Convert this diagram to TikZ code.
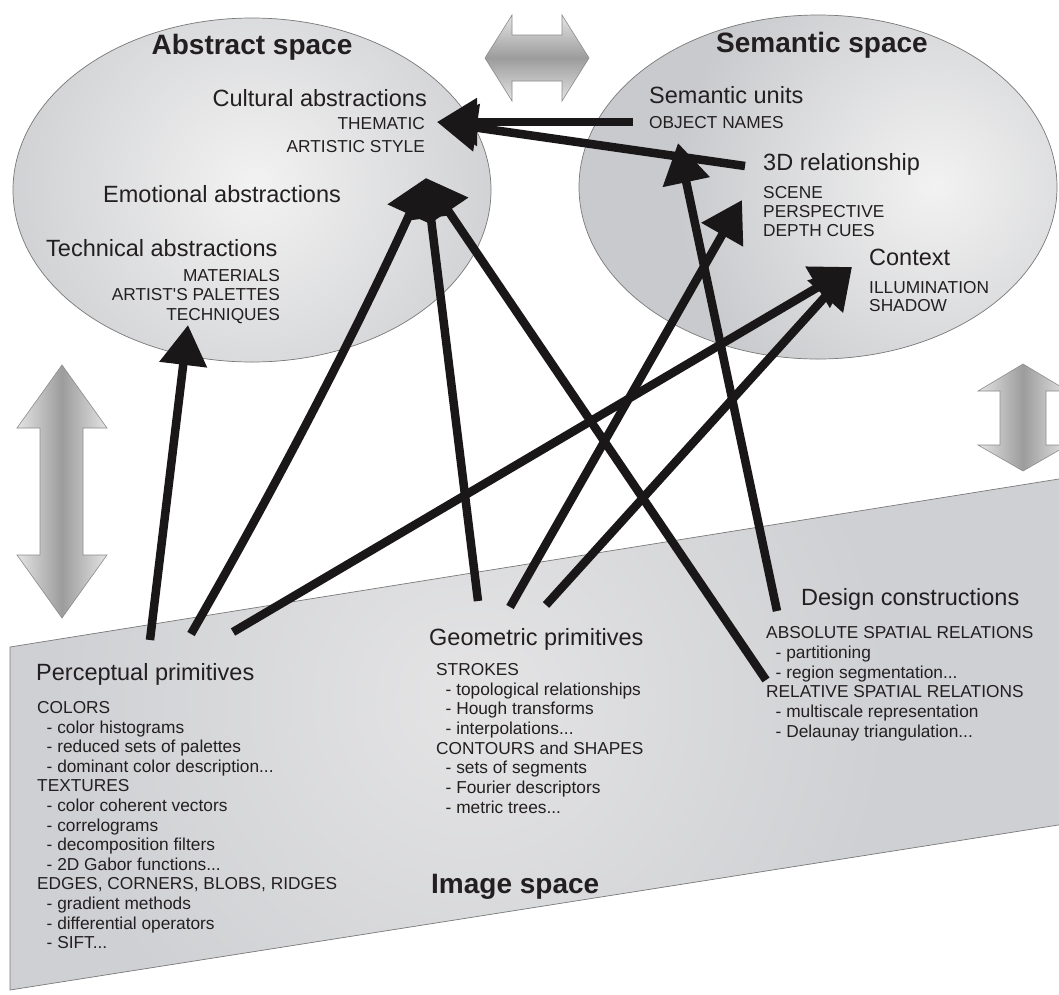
\documentclass[tikz,border=0pt]{standalone}
\usepackage{fontspec}
\setmainfont{Liberation Sans}
\usetikzlibrary{arrows.meta,shapes.geometric}
\definecolor{txt}{HTML}{231F20}
\definecolor{arrowcol}{HTML}{1A1718}
\definecolor{ellbase}{HTML}{C9CACD}
\definecolor{ellhi}{HTML}{F2F2F2}
\definecolor{planebase}{HTML}{CFD0D3}
\definecolor{planehi}{HTML}{E4E4E5}
\definecolor{edge}{HTML}{7A7A7A}
\definecolor{dbllight}{HTML}{E4E4E4}
\definecolor{dbldark}{HTML}{9C9C9C}
\definecolor{dbledge}{HTML}{8C8C8C}
\newcommand{\lstitem}[1]{\hspace*{9.5pt}- #1}
\begin{document}
\begin{tikzpicture}[x=1pt,y=-1pt,
  spacetitle/.style={font=\fontsize{28}{32}\selectfont\bfseries, text=txt, inner sep=0pt},
  sublabel/.style={font=\fontsize{23.5}{27}\selectfont, text=txt, inner sep=0pt},
  capstext/.style={font=\fontsize{17.3}{19.6}\selectfont, text=txt, inner sep=0pt},
  conn/.style={draw=arrowcol, line width=8.5pt, -{Triangle[length=40pt,width=46pt]}},
  dblarrow/.style={draw=dbledge, line width=0.6pt},
  outline/.style={draw=edge, line width=0.7pt}]
\useasboundingbox (0,0) rectangle (1059,994);
\clip (0,0) rectangle (1059,994);
\fill[white] (0,0) rectangle (1059,994);

% image space plane
\begin{scope}
  \clip (10,647) -- (1090,474) -- (1090,820) -- (10,990) -- cycle;
  \fill[planebase] (0,400) rectangle (1100,1000);
  \shade[inner color=planehi, outer color=planebase] (470,700) circle (420);
\end{scope}
\draw[outline] (10,647) -- (1090,474) -- (1090,820) -- (10,990) -- cycle;

% abstract space ellipse
\begin{scope}
  \clip (252,190) ellipse [x radius=239, y radius=172];
  \fill[ellbase] (0,0) rectangle (520,380);
  \shade[inner color=ellhi, outer color=ellbase] (255,185) circle (300);
\end{scope}
\draw[outline] (252,190) ellipse [x radius=239, y radius=172];

% semantic space ellipse
\begin{scope}
  \clip (818,187) ellipse [x radius=239, y radius=172];
  \fill[ellbase] (560,0) rectangle (1080,380);
  \shade[inner color=ellhi, outer color=ellbase] (935,185) circle (260);
\end{scope}
\draw[outline] (818,187) ellipse [x radius=239, y radius=172];

% double arrows
\shadedraw[dblarrow, top color=dbllight, bottom color=dbllight, middle color=dbldark]
  (485,58) -- (512,15) -- (512,35) -- (562,35) -- (562,15) -- (589,58)
  -- (562,101) -- (562,81) -- (512,81) -- (512,101) -- cycle;
\shadedraw[dblarrow, left color=dbllight, right color=dbllight, middle color=dbldark]
  (62,365) -- (107,428) -- (83,428) -- (83,555) -- (107,555) -- (62,618)
  -- (17,555) -- (40,555) -- (40,428) -- (17,428) -- cycle;
\shadedraw[dblarrow, left color=dbllight, right color=dbllight, middle color=dbldark]
  (1023,364) -- (1068,391) -- (1046,391) -- (1046,445) -- (1068,445) -- (1023,471)
  -- (978,445) -- (1000,445) -- (1000,391) -- (978,391) -- cycle;

% titles
\node[spacetitle, anchor=base] (absT) at (252,54) {Abstract space};
\node[spacetitle, anchor=base] (semT) at (822,52) {Semantic space};
\node[spacetitle, anchor=base west] (imgT) at (431,893) {Image space};

% abstract space texts
\node[sublabel, anchor=base east] (cult) at (427,106.4) {Cultural abstractions};
\node[capstext, anchor=base east] (them) at (425,129.2) {THEMATIC};
\node[capstext, anchor=base east] (artst) at (425,152.2) {ARTISTIC STYLE};
\node[sublabel, anchor=base west] (emo) at (103,202.4) {Emotional abstractions};
\node[sublabel, anchor=base west] (tech) at (46,256.4) {Technical abstractions};
\node[capstext, anchor=north east, align=right, font=\fontsize{17.3}{19.5}\selectfont] (techL) at (280,267.2)
  {\rule{0pt}{14pt}MATERIALS\\ARTIST\textquotesingle S PALETTES\\TECHNIQUES};

% semantic space texts
\node[sublabel, anchor=base west] (semU) at (649,103.4) {Semantic units};
\node[capstext, anchor=base west] (objN) at (649,128.2) {OBJECT NAMES};
\node[sublabel, anchor=base west] (rel3) at (763,170.4) {3D relationship};
\node[capstext, anchor=north west, align=left, font=\fontsize{17.3}{19}\selectfont] (sceneL) at (763,184.2)
  {\rule{0pt}{14pt}SCENE\\PERSPECTIVE\\DEPTH CUES};
\node[sublabel, anchor=base west] (ctx) at (869,265.4) {Context};
\node[capstext, anchor=north west, align=left, font=\fontsize{17.3}{18.5}\selectfont] (ctxL) at (869,279.2)
  {\rule{0pt}{14pt}ILLUMINATION\\SHADOW};

% image space texts
\node[sublabel, anchor=base west] (perc) at (36,680.4) {Perceptual primitives};
\node[capstext, anchor=north west, align=left] (percL) at (37,699.2)
  {\rule{0pt}{14pt}COLORS\\\lstitem{color histograms}\\\lstitem{reduced sets of palettes}\\
   \lstitem{dominant color description...}\\TEXTURES\\\lstitem{color coherent vectors}\\
   \lstitem{correlograms}\\\lstitem{decomposition filters}\\\lstitem{2D Gabor functions...}\\
   EDGES, CORNERS, BLOBS, RIDGES\\\lstitem{gradient methods}\\\lstitem{differential operators}\\
   \lstitem{SIFT...}};
\node[sublabel, anchor=base west] (geo) at (429,645.4) {Geometric primitives};
\node[capstext, anchor=north west, align=left, font=\fontsize{17.3}{19.7}\selectfont] (geoL) at (436,661.2)
  {\rule{0pt}{14pt}STROKES\\\lstitem{topological relationships}\\\lstitem{Hough transforms}\\
   \lstitem{interpolations...}\\CONTOURS and SHAPES\\\lstitem{sets of segments}\\
   \lstitem{Fourier descriptors}\\\lstitem{metric trees...}};
\node[sublabel, anchor=base west] (des) at (801,605.4) {Design constructions};
\node[capstext, anchor=north west, align=left, font=\fontsize{17.3}{19.8}\selectfont] (desL) at (766,624.2)
  {\rule{0pt}{14pt}ABSOLUTE SPATIAL RELATIONS\\\lstitem{partitioning}\\\lstitem{region segmentation...}\\
   RELATIVE SPATIAL RELATIONS\\\lstitem{multiscale representation}\\\lstitem{Delaunay triangulation...}};

% connector end points
\coordinate (p1) at (150,640);
\coordinate (p2) at (191,634);
\coordinate (p3) at (233,632);
\coordinate (g1) at (478,601);
\coordinate (g2) at (510,607);
\coordinate (g3) at (546,605);
\coordinate (d1) at (777,611);
\coordinate (d2) at (766,680);
\coordinate (o1) at (633,122);
\coordinate (r1) at (745,166);
\coordinate (techTip) at (188,325);
\coordinate (styleTip) at (426,178);
\coordinate (themTip) at (437,122);
\coordinate (objTip) at (678,143);
\coordinate (sceneTip) at (742,200);
\coordinate (ctxTip) at (852,267);

% connectors
\draw[conn] (p1) -- (techTip);
\draw[conn] (p2) .. controls (276,486) and (355,334) .. (styleTip);
\draw[conn] (p3) -- (ctxTip);
\draw[conn] (g1) -- (styleTip);
\draw[conn] (g2) -- (sceneTip);
\draw[conn] (g3) -- (ctxTip);
\draw[conn] (d2) -- (styleTip);
\draw[conn] (d1) -- (objTip);
\draw[conn] (o1) -- (themTip);
\draw[conn] (r1) -- (themTip);
\end{tikzpicture}
\end{document}
